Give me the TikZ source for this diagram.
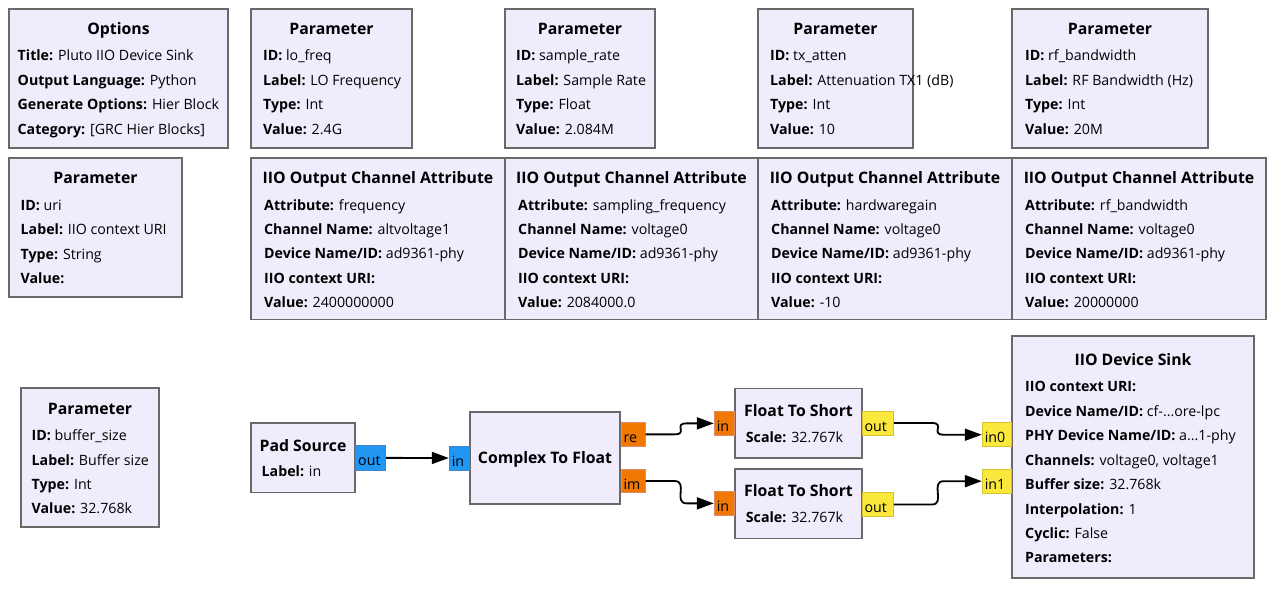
\documentclass[tikz,border=0pt]{standalone}
\usepackage{fontspec}
\setmainfont{Open Sans}
\usetikzlibrary{fit,calc,arrows.meta}
\definecolor{blkfill}{RGB}{240,236,252}
\definecolor{blkdraw}{RGB}{105,105,105}
\definecolor{pblue}{RGB}{33,150,243}
\definecolor{pblueb}{RGB}{70,130,200}
\definecolor{porange}{RGB}{240,120,0}
\definecolor{porangeb}{RGB}{225,140,110}
\definecolor{pyellow}{RGB}{250,232,60}
\definecolor{pyellowb}{RGB}{215,195,50}
\newcommand\grcT{\fontsize{15.8}{18}\selectfont\bfseries}
\newcommand\grcB{\fontsize{14.2}{16}\selectfont}
\newcommand\grcKV[2]{\textbf{#1:} #2}
\tikzset{
  blk/.style={draw=blkdraw, line width=1.6pt, fill=blkfill, inner sep=0pt},
  ttl/.style={anchor=base, inner sep=0pt, font=\grcT},
  ln/.style={anchor=base west, inner sep=0pt, font=\grcB},
  portbase/.style={inner sep=0pt, line width=1pt},
  pb/.style={portbase, fill=pblue, draw=pblueb},
  po/.style={portbase, fill=porange, draw=porangeb},
  py/.style={portbase, fill=pyellow, draw=pyellowb},
  ptxt/.style={inner sep=0pt, font=\grcB, anchor=base west},
  conn/.style={draw=black, line width=1.8pt, -{Triangle[length=17pt,width=12pt]}}
}
% name, x1, y1, x2, y2, title x, title baseline, title
\newcommand\grcblock[8]{%
  \node[blk, fit={(#2,#3) (#4,#5)}] (#1) {};
  \node[ttl] (#1-t) at (#6,#7) {#8};
}
% parent, index, x, baseline, text
\newcommand\grcline[5]{\node[ln] (#1-#2) at (#3,#4) {#5};}
% name, style, x1, y1, x2, y2, text
\newcommand\grcport[7]{%
  \node[#2, fit={(#3,#4) (#5,#6)}] (#1) {};
  \node[ptxt] (#1-l) at ($(#1.west)+(2.8,8)$) {#7};
}
\begin{document}
\begin{tikzpicture}[x=1pt,y=-1pt]
\useasboundingbox (0,0) rectangle (1276,590);
\fill[white] (0,0) rectangle (1276,590);

% ---- top row ----
\grcblock{opt}{9}{9}{228}{148}{118.5}{34.5}{Options}
\grcline{opt}{1}{17.5}{60.5}{\grcKV{Title}{Pluto IIO Device Sink}}
\grcline{opt}{2}{17.5}{85}{\grcKV{Output Language}{Python}}
\grcline{opt}{3}{17.5}{109.5}{\grcKV{Generate Options}{Hier Block}}
\grcline{opt}{4}{17.5}{134}{\grcKV{Category}{[GRC Hier Blocks]}}

\grcblock{plo}{251}{9}{412}{148}{331.5}{34.5}{Parameter}
\grcline{plo}{1}{263}{60.5}{\grcKV{ID}{lo\_freq}}
\grcline{plo}{2}{263}{85}{\grcKV{Label}{LO Frequency}}
\grcline{plo}{3}{263}{109.5}{\grcKV{Type}{Int}}
\grcline{plo}{4}{263}{134}{\grcKV{Value}{2.4G}}

\grcblock{psr}{505}{9}{655}{148}{580}{34.5}{Parameter}
\grcline{psr}{1}{516}{60.5}{\grcKV{ID}{sample\_rate}}
\grcline{psr}{2}{516}{85}{\grcKV{Label}{Sample Rate}}
\grcline{psr}{3}{516}{109.5}{\grcKV{Type}{Float}}
\grcline{psr}{4}{516}{134}{\grcKV{Value}{2.084M}}

\grcblock{ptx}{758}{9}{913}{148}{835.5}{34.5}{Parameter}
\grcline{ptx}{1}{770}{60.5}{\grcKV{ID}{tx\_atten}}
\grcline{ptx}{2}{770}{85}{\grcKV{Label}{Attenuation TX1 (dB)}}
\grcline{ptx}{3}{770}{109.5}{\grcKV{Type}{Int}}
\grcline{ptx}{4}{770}{134}{\grcKV{Value}{10}}

\grcblock{prf}{1012}{9}{1208}{148}{1110}{34.5}{Parameter}
\grcline{prf}{1}{1025}{60.5}{\grcKV{ID}{rf\_bandwidth}}
\grcline{prf}{2}{1025}{85}{\grcKV{Label}{RF Bandwidth (Hz)}}
\grcline{prf}{3}{1025}{109.5}{\grcKV{Type}{Int}}
\grcline{prf}{4}{1025}{134}{\grcKV{Value}{20M}}

% ---- second row ----
\grcblock{puri}{9}{158}{182}{297}{95.5}{183.5}{Parameter}
\grcline{puri}{1}{20.5}{210}{\grcKV{ID}{uri}}
\grcline{puri}{2}{20.5}{234.5}{\grcKV{Label}{IIO context URI}}
\grcline{puri}{3}{20.5}{259}{\grcKV{Type}{String}}
\grcline{puri}{4}{20.5}{283.5}{\grcKV{Value}{}}

\grcblock{oa}{251}{158}{505}{319.5}{378}{183.5}{IIO Output Channel Attribute}
\grcline{oa}{1}{264}{210}{\grcKV{Attribute}{frequency}}
\grcline{oa}{2}{264}{234.5}{\grcKV{Channel Name}{altvoltage1}}
\grcline{oa}{3}{264}{258.5}{\grcKV{Device Name/ID}{ad9361-phy}}
\grcline{oa}{4}{264}{283}{\grcKV{IIO context URI}{}}
\grcline{oa}{5}{264}{307}{\grcKV{Value}{2400000000}}

\grcblock{ob}{505}{158}{758}{319.5}{631.5}{183.5}{IIO Output Channel Attribute}
\grcline{ob}{1}{518}{210}{\grcKV{Attribute}{sampling\_frequency}}
\grcline{ob}{2}{518}{234.5}{\grcKV{Channel Name}{voltage0}}
\grcline{ob}{3}{518}{258.5}{\grcKV{Device Name/ID}{ad9361-phy}}
\grcline{ob}{4}{518}{283}{\grcKV{IIO context URI}{}}
\grcline{ob}{5}{518}{307}{\grcKV{Value}{2084000.0}}

\grcblock{oc}{758}{158}{1012}{319.5}{885}{183.5}{IIO Output Channel Attribute}
\grcline{oc}{1}{771}{210}{\grcKV{Attribute}{hardwaregain}}
\grcline{oc}{2}{771}{234.5}{\grcKV{Channel Name}{voltage0}}
\grcline{oc}{3}{771}{258.5}{\grcKV{Device Name/ID}{ad9361-phy}}
\grcline{oc}{4}{771}{283}{\grcKV{IIO context URI}{}}
\grcline{oc}{5}{771}{307}{\grcKV{Value}{-10}}

\grcblock{od}{1012}{158}{1266}{319.5}{1139}{183.5}{IIO Output Channel Attribute}
\grcline{od}{1}{1025}{210}{\grcKV{Attribute}{rf\_bandwidth}}
\grcline{od}{2}{1025}{234.5}{\grcKV{Channel Name}{voltage0}}
\grcline{od}{3}{1025}{258.5}{\grcKV{Device Name/ID}{ad9361-phy}}
\grcline{od}{4}{1025}{283}{\grcKV{IIO context URI}{}}
\grcline{od}{5}{1025}{307}{\grcKV{Value}{20000000}}

% ---- bottom area ----
\grcblock{pbuf}{21}{388}{159}{527}{90}{414.5}{Parameter}
\grcline{pbuf}{1}{31.5}{440}{\grcKV{ID}{buffer\_size}}
\grcline{pbuf}{2}{31.5}{465}{\grcKV{Label}{Buffer size}}
\grcline{pbuf}{3}{31.5}{489.5}{\grcKV{Type}{Int}}
\grcline{pbuf}{4}{31.5}{513.5}{\grcKV{Value}{32.768k}}

\grcblock{pad}{251}{422.7}{355}{492.5}{303}{451}{Pad Source}
\grcline{pad}{1}{261.5}{476.5}{\grcKV{Label}{in}}

\grcblock{ctf}{470}{411.7}{620}{504}{545}{463.3}{Complex To Float}

\grcblock{fsa}{735}{388.3}{862}{457.7}{798.5}{416.7}{Float To Short}
\grcline{fsa}{1}{745.7}{442.7}{\grcKV{Scale}{32.767k}}

\grcblock{fsb}{735}{469}{862}{538.3}{798.5}{496.7}{Float To Short}
\grcline{fsb}{1}{745.7}{522.7}{\grcKV{Scale}{32.767k}}

\grcblock{sink}{1012}{336}{1254}{578}{1133}{365}{IIO Device Sink}
\grcline{sink}{1}{1025}{391.7}{\grcKV{IIO context URI}{}}
\grcline{sink}{2}{1025}{416}{\grcKV{Device Name/ID}{cf-...ore-lpc}}
\grcline{sink}{3}{1025}{440.3}{\grcKV{PHY Device Name/ID}{a...1-phy}}
\grcline{sink}{4}{1025}{465}{\grcKV{Channels}{voltage0, voltage1}}
\grcline{sink}{5}{1025}{489.3}{\grcKV{Buffer size}{32.768k}}
\grcline{sink}{6}{1025}{514}{\grcKV{Interpolation}{1}}
\grcline{sink}{7}{1025}{538.3}{\grcKV{Cyclic}{False}}
\grcline{sink}{8}{1025}{562.3}{\grcKV{Parameters}{}}

% ---- ports ----
\grcport{padout}{pb}{355.7}{445.7}{385.7}{470}{out}
\grcport{ctfin}{pb}{449.3}{446}{469.3}{470}{in}
\grcport{ctfre}{po}{621}{422.7}{645}{446}{re}
\grcport{ctfim}{po}{621}{469.3}{645}{492.7}{im}
\grcport{fsain}{po}{714.3}{411.7}{734.3}{435}{in}
\grcport{fsbin}{po}{714.3}{491.7}{734.3}{515}{in}
\grcport{fsaout}{py}{862}{411}{893.3}{435}{out}
\grcport{fsbout}{py}{862}{492.3}{893.3}{516.7}{out}
\grcport{sinkin0}{py}{982.3}{422.7}{1011}{446.7}{in0}
\grcport{sinkin1}{py}{982.3}{469}{1011}{493.3}{in1}

% ---- connections ----
\draw[conn] (padout.east) -- (ctfin.west);
\draw[conn] (ctfre.east) -- ++(29,0) .. controls +(14,0) and +(-14,0) .. ($(fsain.west)+(-27,0)$) -- (fsain.west);
\draw[conn] (ctfim.east) -- ++(29,0) .. controls +(14,0) and +(-14,0) .. ($(fsbin.west)+(-27,0)$) -- (fsbin.west);
\draw[conn] (fsaout.east) -- ++(38,0) .. controls +(14,0) and +(-14,0) .. ($(sinkin0.west)+(-38,0)$) -- (sinkin0.west);
\draw[conn] (fsbout.east) -- ++(38,0) .. controls +(14,0) and +(-14,0) .. ($(sinkin1.west)+(-38,0)$) -- (sinkin1.west);
\end{tikzpicture}
\end{document}
